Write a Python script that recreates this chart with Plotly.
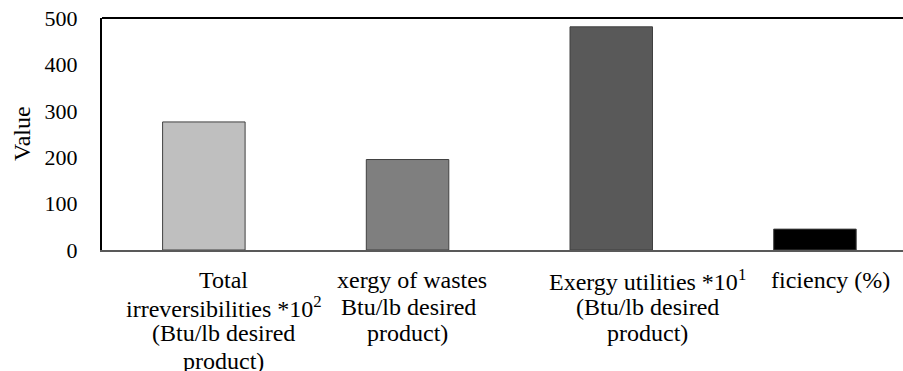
import plotly.graph_objects as go

categories = [
    "Total irreversibilities *10^2 (Btu/lb desired product)",
    "Exergy of wastes (Btu/lb desired product)",
    "Exergy utilities *10^1 (Btu/lb desired product)",
    "Exergetic efficiency (%)",
]
values = [276, 195, 481, 45]
bar_colors = ["#BFBFBF", "#7F7F7F", "#595959", "#000000"]
y_ticks = [0, 100, 200, 300, 400, 500]
y_title = "Value"

# visible (clipped) category label lines, as in the reference
label_lines = [
    ["Total", "irreversibilities *10<sup>2</sup>", "(Btu/lb desired", "product)"],
    ["xergy of wastes", "Btu/lb desired", "product)"],
    ["Exergy utilities *10<sup>1</sup>", "(Btu/lb desired", "product)"],
    ["ficiency (%)"],
]
# per-line style: (xshift px, xanchor)
label_style = [
    [(20, "center"), (20, "center"), (20, "center"), (20, "center")],
    [(81, "right"), (70, "right"), (0, "center")],
    [(36, "center"), (36, "center"), (36, "center")],
    [(77, "right")],
]

FONT = "Liberation Serif"
W, H = 903, 371
ML, MR, MT, MB = 102, 0, 18, 121
plot_h = H - MT - MB
plot_w = W - ML - MR
cat_px = 203.7

fig = go.Figure()
fig.add_trace(go.Bar(
    x=categories, y=values, width=0.405,
    marker=dict(color=bar_colors, line=dict(color="#404040", width=1)),
    showlegend=False, hoverinfo="x+y",
))

line_pix = [280, 307, 333, 361]
annotations = []
for i, lines in enumerate(label_lines):
    for j, txt in enumerate(lines):
        xs, xa = label_style[i][j]
        annotations.append(dict(
            x=categories[i], xref="x", y=-(line_pix[j] - (MT + plot_h)) / plot_h, yref="paper",
            text=txt, showarrow=False, xanchor=xa, yanchor="middle", xshift=xs,
            font=dict(family=FONT, size=24, color="#000000"),
        ))
annotations.append(dict(
    x=(22 - ML) / plot_w, xref="paper", y=0.5, yref="paper", text=y_title,
    textangle=-90, showarrow=False, xanchor="center", yanchor="middle",
    font=dict(family=FONT, size=24, color="#000000"),
))

fig.update_layout(
    width=W, height=H,
    margin=dict(l=ML, r=MR, t=MT, b=MB, pad=0, autoexpand=False),
    paper_bgcolor="white", plot_bgcolor="white",
    font=dict(family=FONT, color="#000000"),
    annotations=annotations,
    shapes=[dict(type="line", xref="paper", yref="paper", x0=0, x1=1, y0=1, y1=1,
                 line=dict(color="#000000", width=2))],
    xaxis=dict(
        type="category", range=[-0.5, -0.5 + plot_w / cat_px],
        showticklabels=False, ticks="", showgrid=False, zeroline=False,
        showline=True, linecolor="#595959", linewidth=2, automargin=False,
    ),
    yaxis=dict(
        range=[0, 500], tickvals=y_ticks, ticktext=[str(v) for v in y_ticks],
        showgrid=False, zeroline=False, ticks="", ticklabelstandoff=18,
        showline=True, linecolor="#000000", linewidth=2, automargin=False,
        tickfont=dict(family=FONT, size=22, color="#000000"),
    ),
)

fig.write_html(
    "out.html",
    config={"displayModeBar": False},
    post_script="document.body.style.margin='0';document.body.style.overflow='hidden';",
)
